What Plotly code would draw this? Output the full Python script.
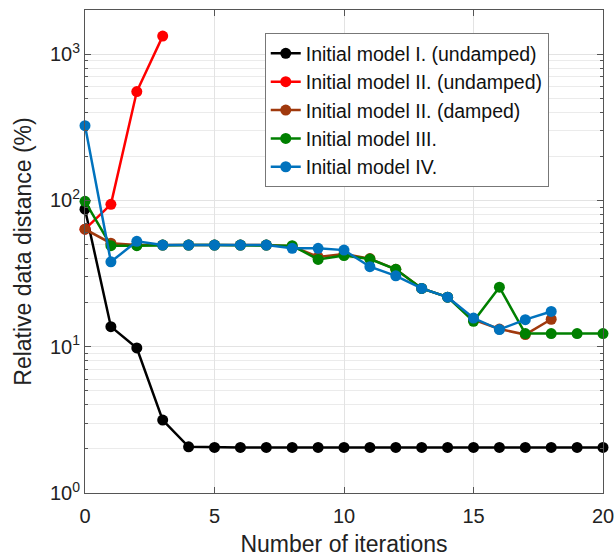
import plotly.graph_objects as go

iterations = list(range(21))

model_1_undamped = [87, 13.7, 9.8, 3.15, 2.07, 2.05, 2.05, 2.05, 2.05, 2.05, 2.05,
                    2.05, 2.05, 2.05, 2.05, 2.05, 2.05, 2.05, 2.05, 2.05, 2.05]
model_2_undamped = [63.5, 94, 554, 1326]
model_2_damped = [63.5, 51, 49.5, 49.5, 49.5, 49.5, 49.5, 49.5, 48.5, 41, 43,
                  40, 33.8, 25, 21.8, 15.3, 13.2, 12.1, 15.4]
model_3 = [98.5, 49, 49, 49.5, 49.5, 49.5, 49.5, 49.5, 49, 39.5, 42,
           39.7, 33.8, 25, 21.8, 14.9, 25.5, 12.3, 12.3, 12.3, 12.3]
model_4 = [324, 38, 52.5, 49.5, 49.5, 49.5, 49.5, 49.5, 47, 47, 45.7,
           35.2, 30.5, 25, 21.8, 15.7, 13.1, 15.3, 17.4]

series = [
    ("Initial model I. (undamped)", model_1_undamped, "#000000"),
    ("Initial model II. (undamped)", model_2_undamped, "#FF0000"),
    ("Initial model II. (damped)", model_2_damped, "#A0390D"),
    ("Initial model III.", model_3, "#008000"),
    ("Initial model IV.", model_4, "#0072BD"),
]

fig = go.Figure()
for name, vals, color in series:
    fig.add_trace(go.Scatter(
        x=iterations[:len(vals)], y=vals, name=name, mode="lines+markers",
        line=dict(color=color, width=2.5),
        marker=dict(color=color, size=11),
        cliponaxis=False,
    ))

minor_vals = [m * 10 ** e for e in range(0, 4) for m in range(2, 10)]

axis_common = dict(
    showline=True, linecolor="#555555", linewidth=1, mirror="ticks",
    ticks="inside", ticklen=6, tickcolor="#555555",
    gridcolor="#E3E3E3", gridwidth=1, zeroline=False,
    tickfont=dict(family="Liberation Sans, Arial", size=20, color="#222222"),
    ticklabeloverflow="allow", automargin=False,
)

fig.update_layout(
    width=615, height=559,
    margin=dict(l=85, r=12, t=10, b=66),
    paper_bgcolor="white", plot_bgcolor="white",
    font=dict(family="Liberation Sans, Arial", color="#222222"),
    xaxis=dict(
        range=[0, 20], tickvals=[0, 5, 10, 15, 20],
        ticklabelstandoff=5,
        title=dict(text="Number of iterations", font=dict(size=23), standoff=9),
        **axis_common,
    ),
    yaxis=dict(
        type="log", range=[0, 3.301],
        tickvals=[1, 10, 100, 1000],
        ticktext=["10<sup>0</sup>", "10<sup>1</sup>", "10<sup>2</sup>", "10<sup>3</sup>"],
        title=dict(text="Relative data distance (%)", font=dict(size=23), standoff=11),
        minor=dict(tickvals=minor_vals, ticks="inside", ticklen=3,
                   tickcolor="#555555", showgrid=True, gridcolor="#EBEBEB"),
        **axis_common,
    ),
    legend=dict(
        x=0.347, y=0.952, xanchor="left", yanchor="top",
        bgcolor="white", bordercolor="#777777", borderwidth=1,
        font=dict(size=19.5, color="#111111"),
        itemwidth=30, tracegroupgap=0,
    ),
    showlegend=True,
)

fig.write_html("out.html")
